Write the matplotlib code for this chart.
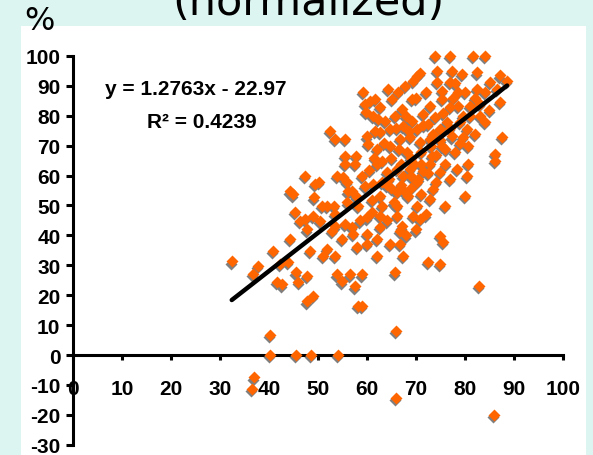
import numpy as np
import matplotlib
matplotlib.use("Agg")
import matplotlib.pyplot as plt
import matplotlib.transforms as mtransforms
from matplotlib.patches import Rectangle

# scatter values (%)
x_pct = [32.4, 36.9, 36.5, 40.2, 40.2, 45.5, 48.6, 54.0, 65.9, 65.9, 85.9, 82.9,
         58.2, 59.0, 47.8, 49.0,
         36.7, 37.8, 41.6, 42.6, 45.5, 46.0, 47.8, 53.9, 54.9, 56.5, 57.6, 59.0, 65.7,
         40.8, 42.2, 43.9, 44.3, 48.4, 51.8, 51.0, 53.5, 58.0, 60.0, 60.0,
         45.3, 46.3, 47.3, 47.8, 49.0, 50.4, 52.9, 53.5, 54.9, 55.5, 56.9, 57.1,
         44.3, 44.9, 47.3, 49.2, 49.4, 50.2, 50.8, 51.8, 53.3, 53.5, 53.9, 55.1, 55.9,
         56.1, 55.5, 57.6, 59.0, 59.6, 58.2,
         52.4, 53.5, 55.5, 55.5, 57.8, 59.2, 59.6, 59.8, 60.0, 60.2, 60.6, 62.2, 61.6,
         73.9, 76.9, 81.6, 84.1, 74.3, 77.3, 79.4, 82.4, 87.1, 88.6, 70.8, 70.2, 69.4,
         67.8, 74.3, 76.9, 66.3, 64.3, 65.1, 69.2, 75.3, 78.6, 82.4, 85.1, 86.5, 87.1,
         83.1, 81.0, 61.6, 62.7, 67.1, 72.9, 75.3, 76.9, 78.6, 79.6, 80.4, 80.6, 87.6, 86.1,
         61.2, 63.7, 65.7, 64.7, 67.3, 69.2, 70.2, 71.4, 72.4, 73.9, 74.9, 76.3, 77.3,
         75.3, 72.9, 70.8, 68.8, 66.7, 64.7, 62.7, 62.0, 68.2, 73.3,
         62.0, 64.1, 66.1, 67.3, 68.8, 70.2, 71.4, 72.9, 74.9, 78.4, 80.6, 80.4, 86.1,
         80.0, 75.9, 73.5, 72.9, 70.2, 69.4, 70.8, 68.4, 66.1, 66.1, 66.1, 63.1, 62.7,
         61.0, 62.7, 67.1, 66.7, 74.9, 75.5, 62.0, 64.7, 66.7, 62.0, 67.3, 72.4, 74.9,
         61.2, 62.7,
         63.0, 65.0, 67.0, 69.0, 71.0, 73.0, 75.0, 77.0, 79.0, 81.0, 83.0, 63.0, 65.0,
         69.0, 71.0, 74.0, 76.0, 78.0, 82.0, 84.0, 85.0, 60.5, 58.0, 56.0, 61.0, 64.0,
         68.0, 70.0, 72.0, 77.0, 79.0, 84.0, 72.0, 70.0, 68.0, 66.0, 78.0, 80.0, 82.0,
         76.0, 74.0, 71.0, 69.0, 67.0, 64.0,
         63.5, 66.5, 68.5, 71.5, 73.5, 75.5, 77.5, 79.5, 61.5, 64.5, 67.5, 70.5, 65.5,
         69.5, 72.5, 58.5, 57.0, 60.0]
y_pct = [31.4, -7.4, -11.4, 6.7, 0.0, 0.0, 0.0, 0.0, 8.0, -14.4, -20.0, 23.1,
         16.4, 16.4, 18.0, 19.7,
         27.1, 29.8, 24.4, 23.7, 27.7, 24.4, 26.4, 27.0, 24.7, 27.0, 23.0, 27.0, 27.7,
         34.8, 30.4, 31.1, 38.8, 34.8, 35.5, 33.1, 33.1, 36.1, 37.1, 40.5,
         47.8, 44.8, 45.5, 42.0, 46.5, 44.8, 41.5, 43.1, 38.8, 43.8, 42.8, 40.5,
         54.8, 53.8, 59.9, 52.8, 57.2, 57.9, 49.8, 49.8, 49.8, 47.2, 59.9, 59.5, 57.9,
         54.8, 63.9, 63.9, 59.9, 56.5, 49.8,
         74.9, 72.2, 72.2, 66.6, 66.6, 88.0, 84.0, 81.3, 73.2, 70.6, 85.0, 78.9, 74.9,
         100.0, 100.0, 100.0, 100.0, 95.0, 95.0, 94.0, 94.6, 93.6, 91.6, 94.3, 93.3, 91.6,
         90.0, 91.3, 91.3, 88.0, 89.0, 85.6, 85.6, 88.3, 88.0, 89.0, 91.3, 89.0, 84.6,
         79.9, 83.3, 85.6, 82.9, 82.3, 83.3, 85.6, 82.9, 83.3, 79.9, 75.6, 69.9, 72.9, 67.2,
         79.9, 78.3, 79.9, 75.6, 76.6, 78.3, 75.6, 80.6, 77.3, 79.6, 75.6, 77.9, 73.2,
         69.9, 72.2, 71.2, 72.9, 72.2, 69.9, 74.6, 68.9, 67.9, 66.6,
         63.9, 61.2, 62.2, 59.9, 62.2, 57.9, 61.5, 63.9, 61.2, 62.2, 63.9, 59.9, 64.9,
         53.2, 49.8, 55.5, 52.2, 49.8, 46.5, 45.5, 53.2, 54.5, 49.8, 46.5, 49.8, 46.5,
         47.8, 42.8, 43.1, 41.5, 39.8, 37.8, 38.8, 37.1, 37.1, 33.1, 33.1, 31.1, 30.4,
         57.2, 53.2,
         65.0, 66.0, 64.0, 66.0, 68.0, 70.0, 72.0, 76.0, 78.0, 80.0, 84.0, 58.0, 56.0,
         56.0, 54.0, 58.0, 64.0, 68.0, 74.0, 78.0, 82.0, 62.0, 53.0, 51.0, 52.0, 45.0,
         40.0, 42.0, 47.0, 59.0, 71.0, 88.0, 88.0, 86.0, 80.0, 76.0, 91.0, 88.0, 86.0,
         69.0, 67.0, 64.0, 60.0, 57.0, 57.0,
         71.0, 69.0, 75.0, 77.0, 74.0, 81.0, 86.0, 73.0, 66.0, 59.0, 55.0, 59.0, 51.0,
         64.0, 61.0, 45.0, 55.0, 46.0]

slope = 1.2763
intercept = -22.97
r2 = 0.4239
fit_x = [32.4, 88.6]

x_ticks = [0, 10, 20, 30, 40, 50, 60, 70, 80, 90, 100]
y_ticks = [-30, -20, -10, 0, 10, 20, 30, 40, 50, 60, 70, 80, 90, 100]

W, H = 593, 456
fig = plt.figure(figsize=(W / 100, H / 100), dpi=100, facecolor="#ddf5f0")
fig.patches.append(Rectangle((21 / W, 0), 565 / W, 429 / H, transform=fig.transFigure,
                             facecolor="white", edgecolor="none", zorder=-5))

ax = fig.add_axes([48.5 / W, 4.3 / H, 539 / W, 406.7 / H])
ax.set_zorder(2)
ax.set_facecolor("none")
ax.set_xlim(-5, 105)
ax.set_ylim(-32, 104)

for s in ["top", "right"]:
    ax.spines[s].set_visible(False)
ax.spines["left"].set_position(("data", 0))
ax.spines["bottom"].set_position(("data", 0))
ax.spines["left"].set_bounds(-30, 100)
ax.spines["bottom"].set_bounds(0, 100)
for s in ["left", "bottom"]:
    ax.spines[s].set_linewidth(2.2)

ax.set_xticks(x_ticks)
ax.set_yticks(y_ticks)
ax.set_xticklabels([str(v) for v in x_ticks])
ax.set_yticklabels([str(v) for v in y_ticks])
ax.tick_params(axis="x", direction="out", length=3.5, width=2.2, pad=14)
ax.tick_params(axis="y", direction="out", length=5, width=2.2, pad=4)
for lab in ax.get_xticklabels() + ax.get_yticklabels():
    lab.set_fontfamily("Liberation Sans")
    lab.set_fontweight("bold")
    lab.set_fontsize(15)

# markers with an Excel-like drop shadow
shadow = mtransforms.offset_copy(ax.transData, fig=fig, x=-0.8, y=-2.4, units="dots")
ax.plot(x_pct, y_pct, "D", ms=6.2, color="#7f7f7f", mec="none", transform=shadow,
        clip_on=False, zorder=3)
ax.plot(x_pct, y_pct, "D", ms=6.2, color="#ff6600", mec="none", clip_on=False, zorder=4)

fit_y = [slope * v + intercept for v in fit_x]
ax.plot(fit_x, fit_y, color="black", lw=3.2, solid_capstyle="round", zorder=5)

ax.text(6.5, 89, "y = %.4fx - %.2f" % (slope, -intercept), fontfamily="Liberation Sans",
        fontweight="bold", fontsize=15, va="center", ha="left")
ax.text(15.2, 78, "R\u00b2 = %.4f" % r2, fontfamily="Liberation Sans",
        fontweight="bold", fontsize=15, va="center", ha="left")

fig.text(308 / W, 1 - 15 / H, "(normalized)", fontsize=31, ha="center", va="baseline",
         fontfamily="DejaVu Sans", color="black")
fig.text(39 / W, 1 - 21 / H, "%", fontsize=23, ha="center", va="center",
         fontfamily="DejaVu Sans", color="black")

fig.savefig("out.png", dpi=100, facecolor=fig.get_facecolor())
